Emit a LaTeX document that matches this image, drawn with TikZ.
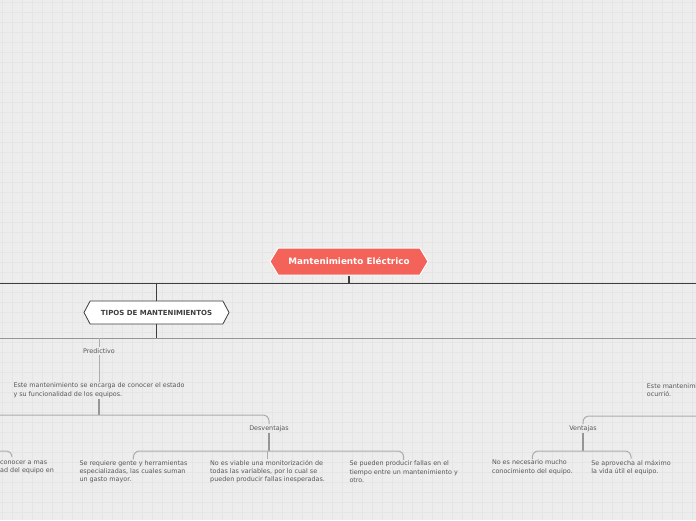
\documentclass[tikz,border=0pt]{standalone}
\usepackage{fontspec}
\setmainfont{DejaVu Sans}
\usetikzlibrary{shapes.symbols}
\definecolor{bgc}{RGB}{237,237,237}
\definecolor{gridc}{RGB}{229,229,229}
\definecolor{rootc}{RGB}{244,99,89}
\definecolor{darkc}{RGB}{62,62,62}
\definecolor{midc}{RGB}{150,150,150}
\definecolor{lightc}{RGB}{172,172,172}
\definecolor{txtc}{RGB}{88,88,88}
\tikzset{
  hexnode/.style={signal, signal to=west and east, inner sep=0pt},
  rootnode/.style={hexnode, signal pointer angle=118, fill=rootc, draw=white, line width=1pt,
    minimum width=158pt, minimum height=27pt, text=white,
    font=\fontsize{8.8}{10}\selectfont\bfseries},
  typenode/.style={hexnode, signal pointer angle=124, fill=white, draw=darkc, line width=0.8pt,
    minimum width=145pt, minimum height=23pt, text=darkc,
    font=\fontsize{7}{8}\selectfont\bfseries},
  txt/.style={text=txtc, align=left, inner sep=1pt, anchor=west,
    font=\fontsize{6.4}{8.2}\selectfont},
  label/.style={txt, anchor=center},
  bus/.style={line width=0.9pt},
  stub/.style={line width=1.6pt},
  twig/.style={lightc, line width=1pt, rounded corners=6pt}
}
\begin{document}
\begin{tikzpicture}[x=1pt,y=-1pt]
  %% Background with grid
  \useasboundingbox (0,0) rectangle (696,520);
  \fill[bgc] (0,0) rectangle (696,520);
  \foreach \g in {2,12,...,692} \draw[gridc, line width=0.7pt] (\g,0) -- (\g,520);
  \foreach \g in {2,12,...,512} \draw[gridc, line width=0.7pt] (0,\g) -- (696,\g);
  \clip (0,0) rectangle (696,520);

  %% Topics
  \node[rootnode] (root) at (349,261.5) {Mantenimiento Eléctrico};
  \node[typenode] (tipos) at (156.5,312.5) {TIPOS DE MANTENIMIENTOS};

  %% Predictivo branch
  \node[label] (pred) at (99,351) {Predictivo};
  \node[txt] (predtxt) at (12.3,390.2) {Este mantenimiento se encarga de conocer el estado\\y su funcionalidad de los equipos.};
  \node[label] (desv) at (269,428.5) {Desventajas};
  \node[txt] (desv1) at (78.3,471.8) {Se requiere gente y herramientas\\especializadas, las cuales suman\\un gasto mayor.};
  \node[txt] (desv2) at (209,471.8) {No es viable una monitorización de\\todas las variables, por lo cual se\\pueden producir fallas inesperadas.};
  \node[txt] (desv3) at (348.3,471.8) {Se pueden producir fallas en el\\tiempo entre un mantenimiento y\\otro.};
  \node[txt] (leftcut) at (-1,467.6) {conocer a mas\\ad del equipo en};

  %% Branch cut off on the right
  \node[txt] (corrtxt) at (645.7,390.2) {Este mantenimiento\\ocurrió.};
  \node[label] (vent) at (583,428.3) {Ventajas};
  \node[txt] (vent1) at (490.8,467.2) {No es necesario mucho\\conocimiento del equipo.};
  \node[txt] (vent2) at (590.2,467.2) {Se aprovecha al máximo\\la vida útil el equipo.};

  %% Bus levels
  \coordinate (lvlA) at (0,283);   \coordinate (lvlAr) at (696,283);
  \coordinate (lvlB) at (0,338);   \coordinate (lvlBr) at (696,338);
  \coordinate (lvlC) at (0,415);   \coordinate (lvlCr) at (696,416);
  \coordinate (brD) at (0,451);
  \coordinate (cutend) at (12,457);

  %% Connectors
  \draw[darkc, stub] (root.south) -- (root.south |- lvlA);
  \draw[darkc, bus] (lvlA) -- (lvlAr);
  \draw[darkc, bus] (tipos.north |- lvlA) -- (tipos.north);
  \draw[darkc, stub] (tipos.south) -- (tipos.south |- lvlB);
  \draw[midc, bus] (lvlB) -- (lvlBr);
  \draw[lightc, line width=0.7pt] (pred.north |- lvlB) -- (pred.north);
  \draw[lightc, line width=0.9pt] (pred.south) -- (pred.south |- predtxt.north);
  \draw[midc, line width=1.3pt] (predtxt.south) -- (predtxt.south |- lvlC);
  \draw[twig] (lvlC) -| (desv.north);
  \draw[midc, line width=1.3pt] (desv.south) -- (desv.south |- brD);
  \draw[twig] (desv1.north) |- (desv.south |- brD) -| (desv3.north);
  \draw[twig] (desv2.north) -- (desv2.north |- brD);
  \draw[twig] (brD) -| (cutend);
  \draw[twig] (lvlCr) -| (vent.north);
  \draw[midc, line width=1.3pt] (vent.south) -- (vent.south |- brD);
  \draw[twig] (vent1.north) |- (vent.south |- brD) -| (vent2.north);
\end{tikzpicture}
\end{document}
